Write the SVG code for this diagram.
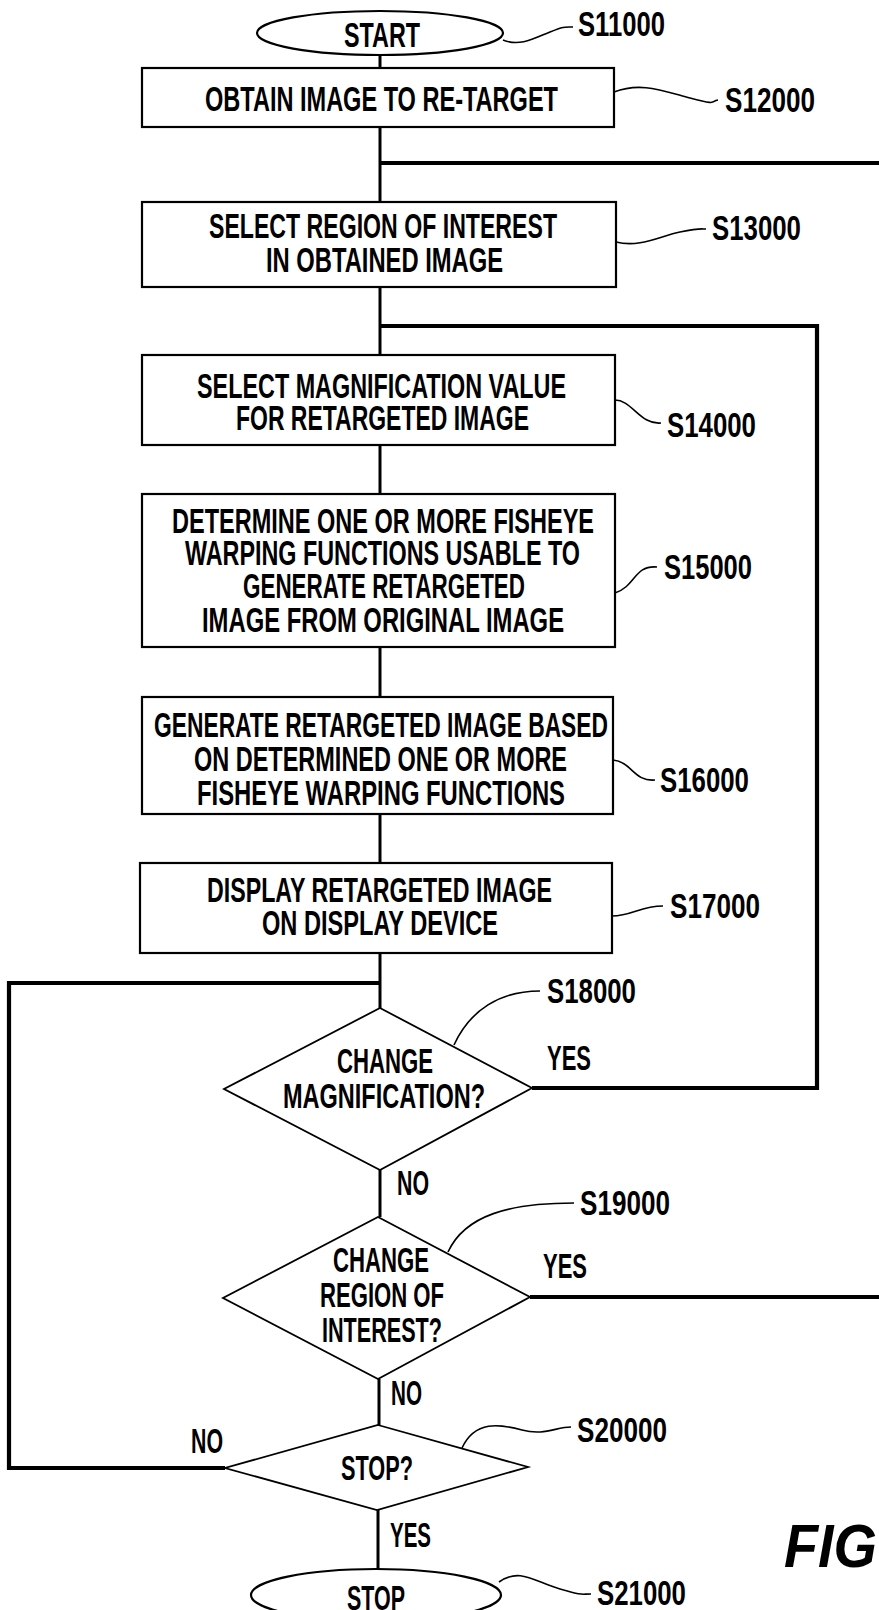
<svg xmlns="http://www.w3.org/2000/svg" width="879" height="1610" viewBox="0 0 879 1610">
<style>
.bg{fill:#fff}
.box{fill:#fff;stroke:#000;stroke-width:2.2}
.dia{fill:#fff;stroke:#000;stroke-width:1.8}
.flow{fill:none;stroke:#000;stroke-width:3}
.loop{fill:none;stroke:#000;stroke-width:4.2}
.lead{fill:none;stroke:#000;stroke-width:1.6}
text{font-family:"Liberation Sans","DejaVu Sans",sans-serif;font-weight:bold;font-size:35.5px;fill:#000}
.fig{font-style:italic;font-size:62px}
</style>
<rect class="bg" x="0" y="0" width="879" height="1610"/>
<g id="connectors">
<line class="flow" x1="380" y1="55" x2="380" y2="68"/>
<line class="flow" x1="380" y1="127" x2="380" y2="202"/>
<line class="flow" x1="380" y1="287" x2="380" y2="355"/>
<line class="flow" x1="380" y1="445" x2="380" y2="494"/>
<line class="flow" x1="380" y1="647" x2="380" y2="697"/>
<line class="flow" x1="380" y1="814" x2="380" y2="863"/>
<line class="flow" x1="380" y1="953" x2="380" y2="1008"/>
<line class="flow" x1="380" y1="1170" x2="380" y2="1217"/>
<line class="flow" x1="379" y1="1379" x2="379" y2="1425"/>
<line class="flow" x1="378" y1="1510" x2="378" y2="1569"/>
<path class="loop" d="M532,1088 H817 V326 H380"/>
<path class="loop" d="M530,1297 H890 V163 H380"/>
<path class="loop" d="M225,1468 H9 V983 H380"/>
<text transform="translate(547,1070) scale(.66,1)" textLength="66.7" lengthAdjust="spacingAndGlyphs">YES</text>
<text transform="translate(397,1195) scale(.66,1)" textLength="48.5" lengthAdjust="spacingAndGlyphs">NO</text>
<text transform="translate(543,1278) scale(.66,1)" textLength="66.7" lengthAdjust="spacingAndGlyphs">YES</text>
<text transform="translate(391,1405) scale(.66,1)" textLength="47" lengthAdjust="spacingAndGlyphs">NO</text>
<text transform="translate(191,1453) scale(.66,1)" textLength="48.5" lengthAdjust="spacingAndGlyphs">NO</text>
<text transform="translate(390,1547) scale(.66,1)" textLength="62.1" lengthAdjust="spacingAndGlyphs">YES</text>
</g>
<g id="S11000">
<ellipse class="box" cx="380" cy="33" rx="123" ry="22"/>
<text transform="translate(344,47) scale(.66,1)" textLength="115.2" lengthAdjust="spacingAndGlyphs">START</text>
<path class="lead" d="M503,40 C520,47 535,38 550,32 S565,27 573,27"/>
<text transform="translate(578,36) scale(.66,1)" textLength="131.8" lengthAdjust="spacingAndGlyphs">S11000</text>
</g>
<g id="S12000">
<rect class="box" x="142" y="68" width="472" height="59"/>
<text transform="translate(205,111) scale(.66,1)" textLength="534.8" lengthAdjust="spacingAndGlyphs">OBTAIN IMAGE TO RE-TARGET</text>
<path class="lead" d="M614,92 C640,82 660,90 690,98 S710,101 718,100"/>
<text transform="translate(725,112) scale(.66,1)" textLength="136.4" lengthAdjust="spacingAndGlyphs">S12000</text>
</g>
<g id="S13000">
<rect class="box" x="142" y="202" width="474" height="85"/>
<text transform="translate(209,238) scale(.66,1)" textLength="527.3" lengthAdjust="spacingAndGlyphs">SELECT REGION OF INTEREST</text>
<text transform="translate(266,272) scale(.66,1)" textLength="359.1" lengthAdjust="spacingAndGlyphs">IN OBTAINED IMAGE</text>
<path class="lead" d="M616,242 C640,248 660,236 680,232 S700,229 706,229"/>
<text transform="translate(712,240) scale(.66,1)" textLength="134.8" lengthAdjust="spacingAndGlyphs">S13000</text>
</g>
<g id="S14000">
<rect class="box" x="142" y="355" width="473" height="90"/>
<text transform="translate(197,398) scale(.66,1)" textLength="559.1" lengthAdjust="spacingAndGlyphs">SELECT MAGNIFICATION VALUE</text>
<text transform="translate(236,430) scale(.66,1)" textLength="443.9" lengthAdjust="spacingAndGlyphs">FOR RETARGETED IMAGE</text>
<path class="lead" d="M615,400 C632,400 640,425 661,423"/>
<text transform="translate(667,437) scale(.66,1)" textLength="134.8" lengthAdjust="spacingAndGlyphs">S14000</text>
</g>
<g id="S15000">
<rect class="box" x="142" y="494" width="473" height="153"/>
<text transform="translate(172,533) scale(.66,1)" textLength="639.4" lengthAdjust="spacingAndGlyphs">DETERMINE ONE OR MORE FISHEYE</text>
<text transform="translate(185,565) scale(.66,1)" textLength="598.5" lengthAdjust="spacingAndGlyphs">WARPING FUNCTIONS USABLE TO</text>
<text transform="translate(243,598) scale(.66,1)" textLength="427.3" lengthAdjust="spacingAndGlyphs">GENERATE RETARGETED</text>
<text transform="translate(202,632) scale(.66,1)" textLength="548.5" lengthAdjust="spacingAndGlyphs">IMAGE FROM ORIGINAL IMAGE</text>
<path class="lead" d="M615,593 C636,586 634,565 657,567"/>
<text transform="translate(664,579) scale(.66,1)" textLength="133.3" lengthAdjust="spacingAndGlyphs">S15000</text>
</g>
<g id="S16000">
<rect class="box" x="142" y="697" width="471" height="117"/>
<text transform="translate(154,737) scale(.66,1)" textLength="687.9" lengthAdjust="spacingAndGlyphs">GENERATE RETARGETED IMAGE BASED</text>
<text transform="translate(194,771) scale(.66,1)" textLength="565.2" lengthAdjust="spacingAndGlyphs">ON DETERMINED ONE OR MORE</text>
<text transform="translate(197,805) scale(.66,1)" textLength="557.6" lengthAdjust="spacingAndGlyphs">FISHEYE WARPING FUNCTIONS</text>
<path class="lead" d="M613,760 C632,762 634,782 655,780"/>
<text transform="translate(660,792) scale(.66,1)" textLength="134.8" lengthAdjust="spacingAndGlyphs">S16000</text>
</g>
<g id="S17000">
<rect class="box" x="140" y="863" width="472" height="90"/>
<text transform="translate(207,902) scale(.66,1)" textLength="522.7" lengthAdjust="spacingAndGlyphs">DISPLAY RETARGETED IMAGE</text>
<text transform="translate(262,935) scale(.66,1)" textLength="357.6" lengthAdjust="spacingAndGlyphs">ON DISPLAY DEVICE</text>
<path class="lead" d="M612,916 C632,916 640,906 663,906"/>
<text transform="translate(670,918) scale(.66,1)" textLength="136.4" lengthAdjust="spacingAndGlyphs">S17000</text>
</g>
<g id="S18000">
<polygon class="dia" points="380,1008 532,1088 380,1170 224,1089"/>
<text transform="translate(337,1073) scale(.66,1)" textLength="145.5" lengthAdjust="spacingAndGlyphs">CHANGE</text>
<text transform="translate(283,1108) scale(.66,1)" textLength="306.1" lengthAdjust="spacingAndGlyphs">MAGNIFICATION?</text>
<path class="lead" d="M454,1045 C470,1010 500,991 540,991"/>
<text transform="translate(547,1003) scale(.66,1)" textLength="134.8" lengthAdjust="spacingAndGlyphs">S18000</text>
</g>
<g id="S19000">
<polygon class="dia" points="378,1217 530,1297 378,1379 223,1298"/>
<text transform="translate(333,1272) scale(.66,1)" textLength="145.5" lengthAdjust="spacingAndGlyphs">CHANGE</text>
<text transform="translate(320,1307) scale(.66,1)" textLength="187.9" lengthAdjust="spacingAndGlyphs">REGION OF</text>
<text transform="translate(322,1342) scale(.66,1)" textLength="181.8" lengthAdjust="spacingAndGlyphs">INTEREST?</text>
<path class="lead" d="M448,1252 C465,1215 510,1203 574,1203"/>
<text transform="translate(580,1215) scale(.66,1)" textLength="136.4" lengthAdjust="spacingAndGlyphs">S19000</text>
</g>
<g id="S20000">
<polygon class="dia" points="378,1425 528,1467 377,1510 225,1468"/>
<text transform="translate(341,1480) scale(.66,1)" textLength="109.1" lengthAdjust="spacingAndGlyphs">STOP?</text>
<path class="lead" d="M462,1448 C475,1420 500,1424 522,1430 S556,1427 571,1427"/>
<text transform="translate(577,1442) scale(.66,1)" textLength="136.4" lengthAdjust="spacingAndGlyphs">S20000</text>
</g>
<g id="S21000">
<ellipse class="box" cx="376" cy="1595" rx="125" ry="26"/>
<text transform="translate(347,1610) scale(.66,1)" textLength="87.9" lengthAdjust="spacingAndGlyphs">STOP</text>
<path class="lead" d="M499,1582 C520,1567 535,1582 560,1589 S580,1594 591,1594"/>
<text transform="translate(597,1605) scale(.66,1)" textLength="134.8" lengthAdjust="spacingAndGlyphs">S21000</text>
</g>
<text class="fig" transform="translate(784,1567) scale(.9,1)" textLength="103.3" lengthAdjust="spacingAndGlyphs">FIG</text>
</svg>
